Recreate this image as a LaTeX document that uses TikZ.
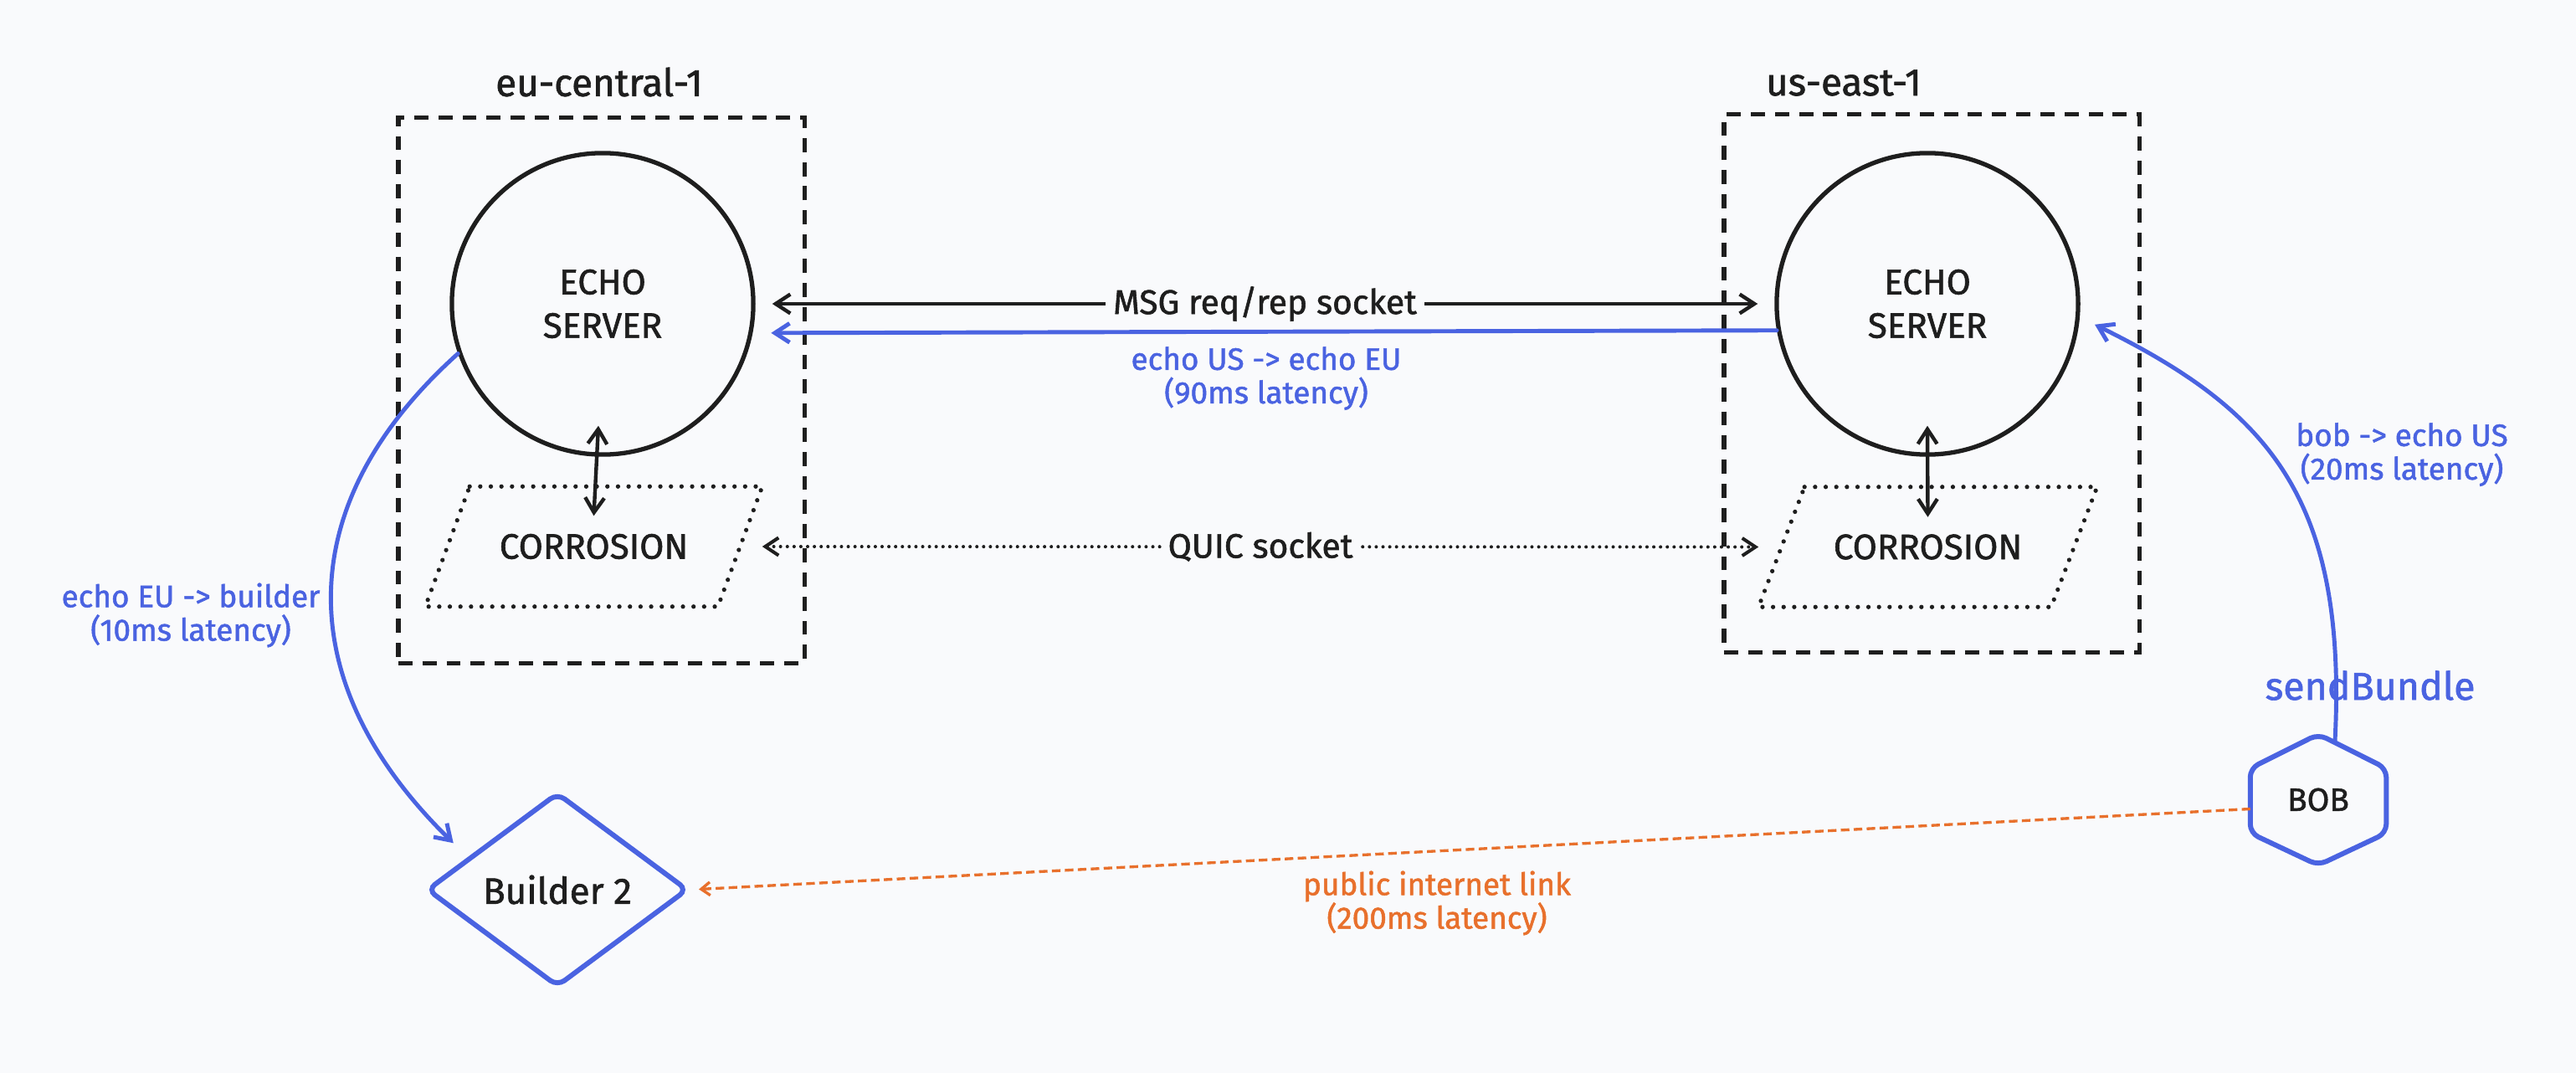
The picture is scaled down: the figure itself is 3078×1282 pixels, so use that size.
\documentclass[tikz,border=0pt]{standalone}
\usepackage{fontspec}
\setmainfont{Fira Sans}[FakeBold=1.4]
\usetikzlibrary{arrows.meta,shapes.geometric,calc}
\definecolor{bg}{HTML}{F9FAFC}
\definecolor{ink}{HTML}{1E1E1E}
\definecolor{eblue}{HTML}{4A63E1}
\definecolor{eorange}{HTML}{E8702C}
\tikzset{
  regionbox/.style={draw=ink, line width=1.5pt, dash pattern=on 4.8pt off 3.4pt, inner sep=0pt},
  regiontitle/.style={text=ink, font=\fontsize{13pt}{15pt}\selectfont, inner sep=0pt},
  server/.style={circle, draw=ink, line width=1.5pt, minimum size=3.6cm, inner sep=0pt, align=center, text=ink, font=\fontsize{12pt}{14.8pt}\selectfont},
  corrbox/.style={rectangle, minimum height=1.42cm, inner sep=0pt, text=ink, font=\fontsize{12pt}{14pt}\selectfont},
  dotline/.style={draw=ink, line width=1.5pt, line cap=round, dash pattern=on 0pt off 3.6pt},
  tipb/.tip={Straight Barb[length=5pt,width=6.5pt]},
  biarrow/.style={draw=ink, line width=1.25pt, line cap=round, {tipb}-{tipb}},
  quicarrow/.style={draw=ink, line width=1.15pt, line cap=round, dash pattern=on 0pt off 2.3pt, {Straight Barb[length=4.5pt,width=6pt]}-{Straight Barb[length=4.5pt,width=6pt]}},
  bluearrow/.style={draw=eblue, line width=1.4pt, line cap=round, -{tipb}},
  orangelink/.style={draw=eorange, line width=0.95pt, dash pattern=on 2.9pt off 1.5pt, -{Straight Barb[length=3pt,width=4.5pt]}},
  bluelabel/.style={text=eblue, align=center, font=\fontsize{10.5pt}{11.4pt}\selectfont, inner sep=0pt},
  orangelabel/.style={text=eorange, align=center, font=\fontsize{10.5pt}{11.4pt}\selectfont, inner sep=0pt},
  linklabel/.style={text=ink, fill=bg, font=\fontsize{11.6pt}{13pt}\selectfont, inner xsep=2.5pt, inner ysep=1pt},
  buildernode/.style={diamond, draw=eblue, line width=1.7pt, aspect=1.34, minimum width=3.12cm, minimum height=2.32cm, rounded corners=3pt, inner sep=0pt, text=ink, font=\fontsize{12.5pt}{14pt}\selectfont},
  bobnode/.style={minimum width=1.61cm, minimum height=1.55cm, inner sep=0pt, text=ink, font=\fontsize{11pt}{13pt}\selectfont},
  hexline/.style={draw=eblue, line width=1.7pt, rounded corners=3pt, line join=round},
}
\begin{document}
\begin{tikzpicture}[x=0.01cm,y=-0.01cm]
\useasboundingbox (0,0) rectangle (3078,1282);
\fill[bg] (0,0) rectangle (3078,1282);

% regions
\node[regionbox, minimum width=4.85cm, minimum height=6.51cm] (eubox) at (718.5,466.5) {};
\node[regionbox, minimum width=4.96cm, minimum height=6.42cm] (usbox) at (2308,458) {};
\node[regiontitle] (eutitle) at (716,98) {eu-central-1};
\node[regiontitle] (ustitle) at (2203,99) {us-east-1};

% servers
\node[server] (eu) at (720,363) {ECHO\\SERVER};
\node[server] (us) at (2303,363) {ECHO\\SERVER};

% corrosion
\node[corrbox, minimum width=4.01cm] (corrEU) at (709.5,653) {CORROSION};
\node[corrbox, minimum width=4.03cm] (corrUS) at (2303.5,653.5) {CORROSION};
\draw[dotline] ($(corrEU.north west)+(53,0)$) -- (corrEU.north east) -- ($(corrEU.south east)-(53,0)$) -- (corrEU.south west) -- cycle;
\draw[dotline] ($(corrUS.north west)+(55,0)$) -- (corrUS.north east) -- ($(corrUS.south east)-(55,0)$) -- (corrUS.south west) -- cycle;

% builder and bob
\node[buildernode] (builder) at (666,1063) {Builder 2};
\node[bobnode] (bob) at (2770,955.5) {BOB};
\draw[hexline] (bob.north) -- ($(bob.north east)!0.26!(bob.south east)$) -- ($(bob.north east)!0.755!(bob.south east)$) -- (bob.south) -- ($(bob.north west)!0.755!(bob.south west)$) -- ($(bob.north west)!0.26!(bob.south west)$) -- cycle;

% connectors
\draw[biarrow, shorten <=0.2cm, shorten >=0.2cm] (eu.east) -- node[linklabel] {MSG req/rep socket} (us.west);
\draw[bluearrow, shorten >=0.22cm] (us.190.8) -- (eu.349.2);
\node[bluelabel] (lblmid) at (1513,452) {echo US -> echo EU\\(90ms latency)};

\draw[quicarrow] (corrEU.east) -- node[linklabel, inner xsep=2pt] {QUIC socket} (corrUS.west);

\draw[biarrow] ([shift={(-5,-37)}]eu.south) -- ([yshift=-0.35cm]corrEU.north);
\draw[biarrow] ([yshift=0.37cm]us.south) -- ([yshift=-0.36cm]corrUS.north);

\draw[bluearrow, shorten >=0.24cm] (eu.199.5) .. controls (346,603) and (347,817) .. ($(builder.north)!0.673!(builder.west)$);
\node[bluelabel] (lbleu) at (228,735) {echo EU -> builder\\(10ms latency)};

\draw[bluearrow, shorten >=0.2cm] ([shift={(20,8)}]bob.north) .. controls (2805,592) and (2708,489) .. (us.-5.7);
\node[bluelabel] (lblus) at (2870,543) {bob -> echo US\\(20ms latency)};
\node[text=eblue, font=\fontsize{13.2pt}{15pt}\selectfont, inner sep=0pt] (sendlbl) at (2832,819) {sendBundle};

\draw[orangelink, shorten >=0.1cm] ([yshift=-0.11cm]bob.west) -- (builder.east);
\node[orangelabel] (lblpub) at (1717,1079) {public internet link\\(200ms latency)};
\end{tikzpicture}
\end{document}
